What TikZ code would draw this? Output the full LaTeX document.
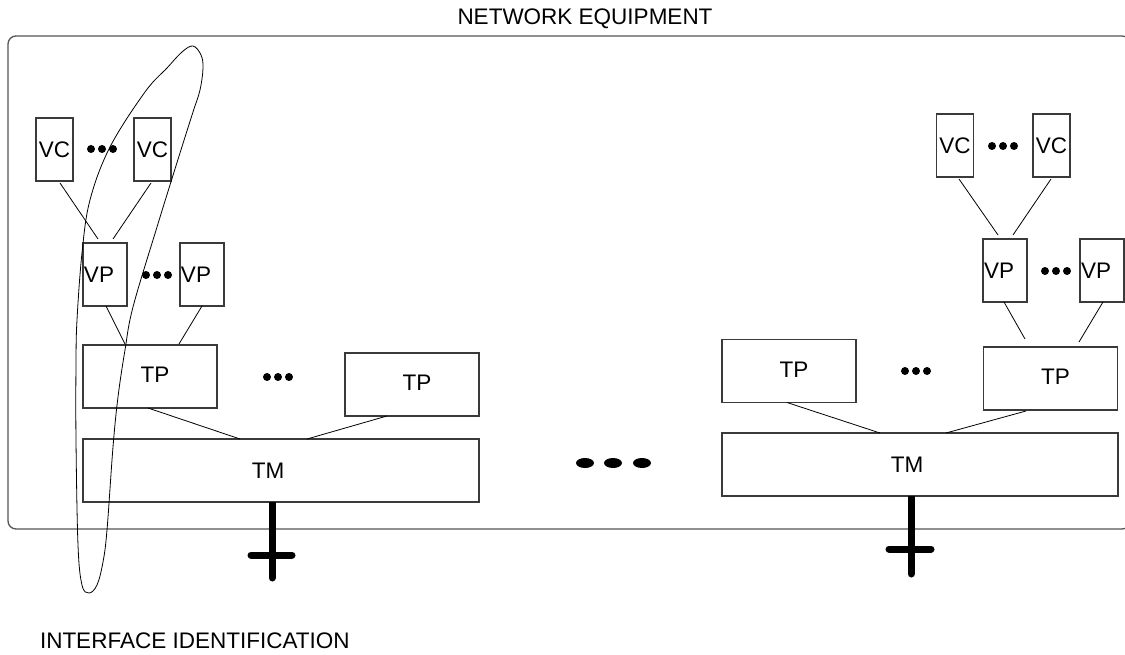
\documentclass[tikz,border=0pt]{standalone}
\usepackage{fontspec}
\setmainfont{Liberation Sans}
\usetikzlibrary{calc}
\definecolor{boxline}{HTML}{3A3A3A}
\definecolor{frameline}{HTML}{555555}
\begin{document}
\begin{tikzpicture}[x=1pt,y=-1pt,
  font=\fontsize{22.5}{27}\selectfont,
  box/.style={draw=boxline,line width=1.1pt,inner sep=0pt,outer sep=0pt,fill=white},
  vcbox/.style={box,minimum width=37pt,minimum height=63pt},
  vpbox/.style={box,minimum width=44pt,minimum height=63pt},
  tpbox/.style={box,minimum width=134pt,minimum height=63pt},
  tmbox/.style={box,minimum width=396pt,minimum height=63pt},
  conn/.style={draw=black,line width=0.8pt},
  iface/.style={line width=7pt,line cap=round},
  dot/.style={fill=black},
  plain/.style={inner sep=0pt,outer sep=0pt}]
\useasboundingbox (0,0) rectangle (1125,655);
% frame
\begin{scope}
\clip (0,0) rectangle (1125,655);
\draw[frameline,line width=1.3pt,rounded corners=8pt] (8,36) rectangle (1130,529);
\end{scope}
\node[plain,anchor=base] (title) at (585,25) {NETWORK EQUIPMENT};
\node[plain,anchor=base west] (ifid) at (40,648) {INTERFACE IDENTIFICATION};

% left group
\node[vcbox] (vc1) at (54.5,149.5) {VC};
\node[vcbox] (vc2) at (152.5,149.5) {VC};
\node[vpbox] (vp1) at (105,274.5) {VP\kern12pt};
\node[vpbox] (vp2) at (202,274.5) {VP\kern12pt};
\node[tpbox] (tp1) at (150,376.5) {\raisebox{3pt}{\kern10pt TP}};
\node[tpbox] (tp2) at (412,384.5) {\raisebox{3pt}{\kern10pt TP}};
\node[tmbox] (tm1) at (281,470.5) {TM\kern26pt};

% right group
\node[vcbox] (vc3) at (955,145.5) {VC};
\node[vcbox] (vc4) at (1051.5,145.5) {VC};
\node[vpbox] (vp3) at (1005,270.5) {VP\kern12pt};
\node[vpbox] (vp4) at (1102,270.5) {VP\kern12pt};
\node[tpbox] (tp3) at (789,371) {\raisebox{3pt}{\kern10pt TP}};
\node[tpbox] (tp4) at (1050.5,378.5) {\raisebox{3pt}{\kern10pt TP}};
\node[tmbox] (tm2) at (920,464.5) {TM\kern26pt};

% connectors left
\draw[conn] ([xshift=5.5pt,yshift=-2pt]vc1.south) -- ([xshift=-7pt,yshift=4pt]vp1.north);
\draw[conn] ([xshift=-1.5pt,yshift=-2pt]vc2.south) -- ([xshift=8pt,yshift=4pt]vp1.north);
\draw[conn] ([xshift=1pt]vp1.south) -- ([xshift=-25pt,yshift=1pt]tp1.north);
\draw[conn] (vp2.south) -- ([xshift=29pt,yshift=1pt]tp1.north);
\draw[conn] ([xshift=-2pt]tp1.south) -- ([xshift=-41pt]tm1.north);
\draw[conn] ([xshift=-25pt]tp2.south) -- ([xshift=26pt]tm1.north);
% connectors right
\draw[conn] ([xshift=4pt,yshift=-2pt]vc3.south) -- ([xshift=-7pt,yshift=4pt]vp3.north);
\draw[conn] ([xshift=-0.5pt,yshift=-2pt]vc4.south) -- ([xshift=8pt,yshift=4pt]vp3.north);
\draw[conn] ([xshift=-1pt]vp3.south) -- ([xshift=-25.5pt,yshift=8pt]tp4.north);
\draw[conn] ([xshift=1pt]vp4.south) -- ([xshift=28.5pt,yshift=5pt]tp4.north);
\draw[conn] ([xshift=-2pt]tp3.south) -- ([xshift=-40pt]tm2.north);
\draw[conn] ([xshift=-24.5pt,yshift=-1pt]tp4.south) -- ([xshift=26pt]tm2.north);

% interface crosses
\coordinate (c1top) at ([xshift=-9pt]tm1.south);
\coordinate (c1bot) at (272,578);
\coordinate (c1l) at (251,555);
\coordinate (c1r) at (292,555);
\draw[iface,line cap=butt] (c1top) -- (272,570);
\draw[iface] (272,560) -- (c1bot);
\draw[iface] (c1l) -- (c1r);
\coordinate (c2top) at ([xshift=-9pt]tm2.south);
\coordinate (c2bot) at (911,574);
\coordinate (c2l) at (889,549);
\coordinate (c2r) at (931,549);
\draw[iface,line cap=butt] (c2top) -- (911,560);
\draw[iface] (911,555) -- (c2bot);
\draw[iface] (c2l) -- (c2r);

% ellipsis dots
\foreach \cx/\cy in {102/149, 157/275, 278/377, 1003/146, 1056/271, 916/371}{
  \foreach \d in {-11,0,11}{
    \fill[dot] (\cx+\d,\cy) circle (4pt);
  }
}
\foreach \cx in {585,613,642}{
  \fill[dot] (\cx,463) ellipse (9pt and 5pt);
}

% selection loop
\draw[black,line width=0.8pt] plot[smooth cycle,tension=0.6] coordinates {
 (193,46) (201,55) (203,68) (200,90) (193,112) (180,153) (157,227) (133,307)
 (125,350) (118,397) (113,447) (107,530) (103,562) (97,585) (89,593)
 (82,585) (78,545) (76,440) (76,363) (77,320) (82,253) (90,200) (110,147)
 (145,92) (167,68) (182,52)};
\end{tikzpicture}
\end{document}
